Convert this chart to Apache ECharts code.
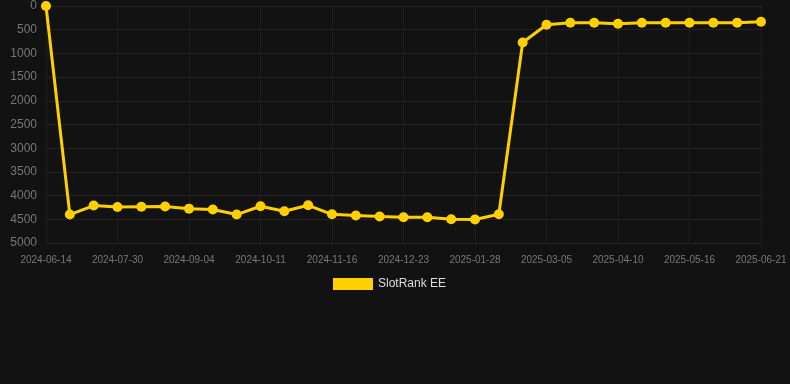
<!DOCTYPE html>
<html>
<head>
<meta charset="utf-8">
<script src="https://cdn.jsdelivr.net/npm/echarts@6/dist/echarts.min.js"></script>
<style>
  html, body { margin: 0; padding: 0; background: #121212; }
  #chart { width: 790px; height: 384px; }
</style>
</head>
<body>
<div id="chart"></div>
<script>
// 日期（类目轴）
const dates = [
    '2024-06-14', '2024-07-06', '2024-07-18', '2024-07-30', '2024-08-11', '2024-08-23',
    '2024-09-04', '2024-09-16', '2024-09-29', '2024-10-11', '2024-10-23', '2024-11-04',
    '2024-11-16', '2024-11-28', '2024-12-11', '2024-12-23', '2025-01-04', '2025-01-16',
    '2025-01-28', '2025-02-09', '2025-02-21', '2025-03-05', '2025-03-17', '2025-03-29',
    '2025-04-10', '2025-04-22', '2025-05-04', '2025-05-16', '2025-05-28', '2025-06-09',
    '2025-06-21'
];

// 排名数据
const rankValues = [
    0, 4400, 4210, 4240, 4235, 4230, 4275, 4295, 4400, 4225, 4330, 4205,
    4395, 4420, 4440, 4455, 4458, 4500, 4505, 4395, 770, 395, 352, 352,
    373, 352, 352, 352, 352, 352, 331
];

const seriesName = 'SlotRank EE';

function renderRankChart() {
    const chart = echarts.init(document.getElementById('chart'));

    const option = {
        backgroundColor: '#121212',
        animation: false,
        grid: {
            left: 46,
            right: 29,
            top: 6,
            bottom: 141
        },
        legend: {
            data: [seriesName],
            top: 273,
            left: 328,
            icon: 'rect',
            itemWidth: 40,
            itemHeight: 12,
            itemGap: 6,
            textStyle: {
                color: '#dddddd',
                fontSize: 12,
                fontFamily: 'Liberation Sans, Arial, sans-serif'
            }
        },
        xAxis: {
            type: 'category',
            data: dates,
            boundaryGap: false,
            axisLine: { show: false },
            axisTick: { show: false },
            axisLabel: {
                interval: 2,
                color: '#777777',
                fontSize: 10,
                margin: 12,
                fontFamily: 'Liberation Sans, Arial, sans-serif'
            },
            splitLine: {
                show: true,
                interval: 2,
                lineStyle: { color: '#1f1f1f', width: 1 }
            }
        },
        yAxis: {
            type: 'value',
            inverse: true,
            min: 0,
            max: 5000,
            interval: 500,
            axisLine: { show: false },
            axisTick: { show: false },
            axisLabel: {
                color: '#777777',
                fontSize: 12,
                margin: 9,
                formatter: value => String(value),
                fontFamily: 'Liberation Sans, Arial, sans-serif'
            },
            splitLine: {
                lineStyle: { color: '#222222', width: 1 }
            }
        },
        series: [
            {
                name: seriesName,
                type: 'line',
                data: rankValues,
                symbol: 'circle',
                symbolSize: 10,
                itemStyle: { color: '#FFD000' },
                lineStyle: { color: '#FFD000', width: 3 }
            }
        ]
    };

    chart.setOption(option);
}

renderRankChart();
</script>
</body>
</html>
